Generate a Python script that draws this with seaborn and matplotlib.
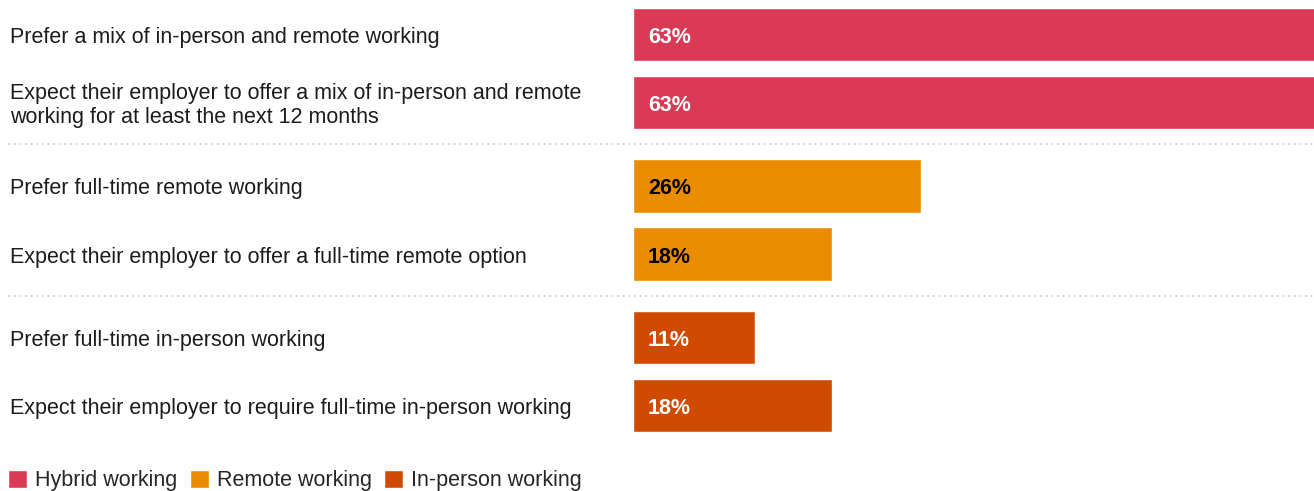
import matplotlib
matplotlib.use("Agg")
import matplotlib.pyplot as plt
import matplotlib.transforms as mtransforms
from matplotlib.lines import Line2D
import pandas as pd
import seaborn as sns

labels = [
    "Prefer a mix of in-person and remote working",
    "Expect their employer to offer a mix of in-person and remote\nworking for at least the next 12 months",
    "Prefer full-time remote working",
    "Expect their employer to offer a full-time remote option",
    "Prefer full-time in-person working",
    "Expect their employer to require full-time in-person working",
]
values = [63, 63, 26, 18, 11, 18]
groups = ["Hybrid working", "Hybrid working", "Remote working", "Remote working",
          "In-person working", "In-person working"]
group_order = ["Hybrid working", "Remote working", "In-person working"]

palette = {"Hybrid working": "#DB3A57", "Remote working": "#EB8C00", "In-person working": "#D04A02"}
text_colors = {"Hybrid working": "white", "Remote working": "black", "In-person working": "white"}

W, H = 1314, 491
GROUP_GAP = 0.22

sns.set_style("white")
plt.rcParams["font.family"] = ["Liberation Sans", "DejaVu Sans"]

# row positions with extra room between groups
gidx = [group_order.index(g) for g in groups]
pos = [i + GROUP_GAP * g for i, g in enumerate(gidx)]
df = pd.DataFrame({"label": labels, "value": values, "group": groups, "pos": pos})

fig = plt.figure(figsize=(W / 100, H / 100), dpi=100)
ax = fig.add_axes([633 / W, (H - 432) / H, 681 / W, 424 / H])

sns.barplot(data=df, x="value", y="pos", hue="group", hue_order=group_order,
            palette=palette, orient="h", native_scale=True, dodge=False,
            width=0.78, saturation=1, ax=ax)
ax.set_xlim(0, 61.5)
ax.set_ylim(pos[-1] + 0.39, pos[0] - 0.39)
ax.axis("off")

trans = mtransforms.blended_transform_factory(fig.transFigure, ax.transData)
for lab, v, g, y in zip(labels, values, groups, pos):
    ax.annotate(lab, xy=(10 / W, y), xycoords=trans, xytext=(0, -3),
                textcoords="offset pixels", ha="left", va="center",
                fontsize=15.5, color="#1c1c1c", linespacing=1.2)
    ax.annotate(f"{v}%", xy=(0, y), xytext=(15, -3), textcoords="offset pixels",
                ha="left", va="center", fontsize=15.5, fontweight="bold",
                color=text_colors[g])

# dotted separators between groups
for k in range(1, len(pos)):
    if gidx[k] != gidx[k - 1]:
        ymid = (pos[k - 1] + pos[k]) / 2
        line = Line2D([8 / W, 1], [ymid, ymid], transform=trans, color="#d6d6d6",
                      lw=1.45, linestyle=(0, (1, 1.8)), clip_on=False)
        fig.add_artist(line)

sns.move_legend(ax, "lower left", bbox_to_anchor=(8 / W, 0.0),
                bbox_transform=fig.transFigure, ncol=3, frameon=False, title=None,
                fontsize=15.5, handlelength=0.9, handleheight=0.9,
                handletextpad=0.37, columnspacing=0.56, borderpad=0, borderaxespad=0)

fig.savefig("out.png", dpi=100)
